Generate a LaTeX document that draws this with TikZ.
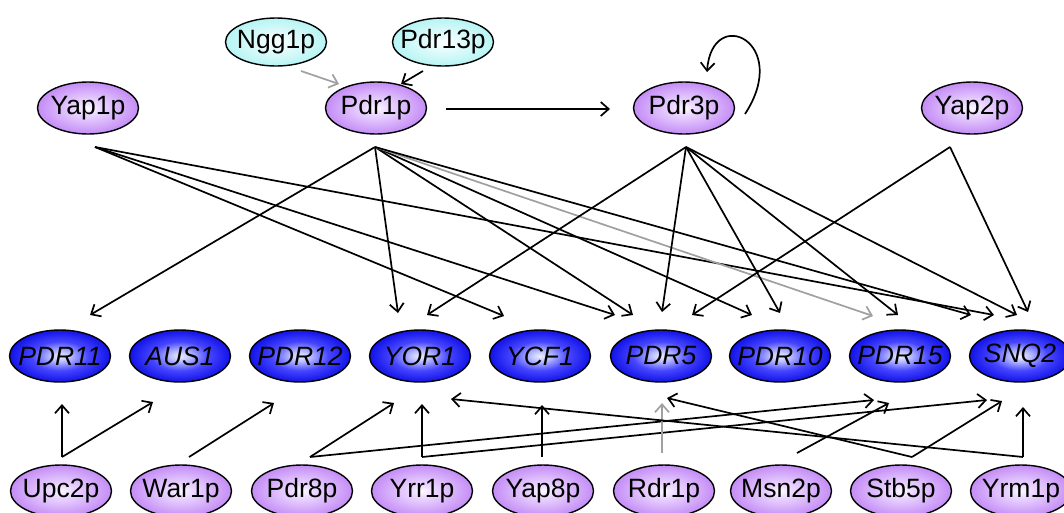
\documentclass[tikz,border=0pt]{standalone}
\usepackage{fontspec}
\setmainfont{Liberation Sans}
\usetikzlibrary{shapes.geometric,arrows.meta}
\definecolor{purpA}{RGB}{253,250,255}
\definecolor{purpB}{RGB}{236,216,255}
\definecolor{purpC}{RGB}{196,140,246}
\definecolor{blueA}{RGB}{238,240,255}
\definecolor{blueB}{RGB}{185,190,255}
\definecolor{blueC}{RGB}{70,70,255}
\definecolor{blueD}{RGB}{18,18,232}
\definecolor{cyanA}{RGB}{252,255,255}
\definecolor{cyanC}{RGB}{182,244,244}
\definecolor{edgegray}{RGB}{160,160,160}
\pgfdeclareradialshading{purpsh}{\pgfpoint{0bp}{0bp}}{color(0bp)=(purpA); color(6bp)=(purpB); color(25bp)=(purpC); color(50bp)=(purpC)}
\pgfdeclareradialshading{bluesh}{\pgfpoint{0bp}{0bp}}{color(0bp)=(blueA); color(5bp)=(blueB); color(14bp)=(blueC); color(25bp)=(blueD); color(50bp)=(blueD)}
\pgfdeclareradialshading{cyansh}{\pgfpoint{0bp}{0bp}}{color(0bp)=(cyanA); color(25bp)=(cyanC); color(50bp)=(cyanC)}
\newcommand{\nodetext}[1]{\makebox[0pt][c]{#1}}
\tikzset{
  basenode/.style={ellipse, draw=black, line width=1.4pt, minimum width=101pt, minimum height=52pt, inner sep=0pt, font=\fontsize{26.5}{30}\selectfont},
  tf/.style={basenode, shading=purpsh},
  gene/.style={basenode, shading=bluesh, font=\fontsize{26.5}{30}\selectfont\itshape},
  cof/.style={basenode, minimum height=48pt, shading=cyansh},
  link/.style={draw=black, line width=1.7pt, -{Straight Barb[length=8pt,width=14pt]}},
  glink/.style={link, draw=edgegray},
}
\begin{document}
\begin{tikzpicture}[x=1pt,y=-1pt]
\useasboundingbox (0,0) rectangle (1064,512);
\clip (0,0) rectangle (1064,512);
% top
\node[cof] (Ngg1p) at (276,42) {\nodetext{Ngg1p}};
\node[cof] (Pdr13p) at (443,42) {\nodetext{Pdr13p}};
\node[tf] (Yap1p) at (88,108) {\nodetext{Yap1p}};
\node[tf] (Pdr1p) at (376,108) {\nodetext{Pdr1p}};
\node[tf] (Pdr3p) at (684,108) {\nodetext{Pdr3p}};
\node[tf] (Yap2p) at (972,108) {\nodetext{Yap2p}};
% genes
\node[gene] (PDR11) at (60,356) {\nodetext{PDR11}};
\node[gene] (AUS1) at (180,356) {\nodetext{AUS1}};
\node[gene] (PDR12) at (300,356) {\nodetext{PDR12}};
\node[gene] (YOR1) at (420,356) {\nodetext{YOR1}};
\node[gene] (YCF1) at (540,356) {\nodetext{YCF1}};
\node[gene] (PDR5) at (661,356) {\nodetext{PDR5}};
\node[gene] (PDR10) at (780,356) {\nodetext{PDR10}};
\node[gene] (PDR15) at (900,356) {\nodetext{PDR15}};
\node[gene] (SNQ2) at (1020,356) {\nodetext{SNQ2}};
% bottom
\node[tf] (Upc2p) at (61,491) {\nodetext{Upc2p}};
\node[tf] (War1p) at (181,491) {\nodetext{War1p}};
\node[tf] (Pdr8p) at (302,491) {\nodetext{Pdr8p}};
\node[tf] (Yrr1p) at (422,491) {\nodetext{Yrr1p}};
\node[tf] (Yap8p) at (543,491) {\nodetext{Yap8p}};
\node[tf] (Rdr1p) at (664,491) {\nodetext{Rdr1p}};
\node[tf] (Msn2p) at (781,491) {\nodetext{Msn2p}};
\node[tf] (Stb5p) at (901,491) {\nodetext{Stb5p}};
\node[tf] (Yrm1p) at (1021,491) {\nodetext{Yrm1p}};

% ports
\coordinate (Ngg1p-o) at (301,71);
\coordinate (Pdr13p-o) at (423,71);
\coordinate (Pdr1p-in1) at (339,84);
\coordinate (Pdr1p-in2) at (401,84);
\coordinate (Pdr1p-r) at (446,109);
\coordinate (Pdr3p-l) at (610,109);
\coordinate (Pdr3p-lo) at (745,114);
\coordinate (Pdr3p-li) at (707,72);

\coordinate (Yap1p-o) at (95,147);
\coordinate (Pdr1p-o) at (375,147);
\coordinate (Pdr3p-o) at (686,147);
\coordinate (Yap2p-o) at (950,147);

\coordinate (PDR11-t1) at (90,315);
\coordinate (YOR1-t1) at (398,313);
\coordinate (YOR1-t2) at (427,315);
\coordinate (YCF1-t1) at (504,316);
\coordinate (PDR5-t1) at (615,315);
\coordinate (PDR5-t2) at (633,315);
\coordinate (PDR5-t3) at (662,312);
\coordinate (PDR5-t4) at (692,315);
\coordinate (PDR10-t1) at (752,315);
\coordinate (PDR10-t2) at (780,313);
\coordinate (PDR15-t1) at (873,316);
\coordinate (PDR15-t2) at (898,315);
\coordinate (SNQ2-t1) at (971,315);
\coordinate (SNQ2-t2) at (994,315);
\coordinate (SNQ2-t3) at (1017,315);
\coordinate (SNQ2-t4) at (1028,312);

\coordinate (Upc2p-o) at (62,457);
\coordinate (War1p-o) at (189,457);
\coordinate (Pdr8p-o) at (310,457);
\coordinate (Yrr1p-o) at (422,457);
\coordinate (Yap8p-o) at (542,457);
\coordinate (Rdr1p-o) at (662,453);
\coordinate (Msn2p-o) at (797,453);
\coordinate (Stb5p-o) at (912,457);
\coordinate (Yrm1p-o) at (1023,457);

\coordinate (PDR11-b1) at (62,404);
\coordinate (AUS1-b1) at (153,402);
\coordinate (PDR12-b1) at (274,403);
\coordinate (YOR1-b1) at (394,403);
\coordinate (YOR1-b2) at (422,404);
\coordinate (YOR1-b3) at (451,399);
\coordinate (YCF1-b1) at (542,405);
\coordinate (PDR5-b1) at (662,403);
\coordinate (PDR5-b2) at (667,398);
\coordinate (PDR15-b1) at (874,400);
\coordinate (PDR15-b2) at (889,403);
\coordinate (SNQ2-b1) at (987,400);
\coordinate (SNQ2-b2) at (1002,401);
\coordinate (SNQ2-b3) at (1023,407);

% top edges
\draw[glink] (Ngg1p-o) -- (Pdr1p-in1);
\draw[link] (Pdr13p-o) -- (Pdr1p-in2);
\draw[link] (Pdr1p-r) -- (Pdr3p-l);
\draw[link] (Pdr3p-lo) .. controls (792,42) and (712,4) .. (Pdr3p-li);

% regulators to genes
\draw[link] (Yap1p-o) -- (YCF1-t1);
\draw[link] (Yap1p-o) -- (PDR5-t1);
\draw[link] (Yap1p-o) -- (SNQ2-t2);
\draw[link] (Pdr1p-o) -- (PDR11-t1);
\draw[link] (Pdr1p-o) -- (YOR1-t1);
\draw[link] (Pdr1p-o) -- (PDR5-t2);
\draw[link] (Pdr1p-o) -- (PDR10-t1);
\draw[glink] (Pdr1p-o) -- (PDR15-t1);
\draw[link] (Pdr1p-o) -- (SNQ2-t1);
\draw[link] (Pdr3p-o) -- (YOR1-t2);
\draw[link] (Pdr3p-o) -- (PDR5-t3);
\draw[link] (Pdr3p-o) -- (PDR10-t2);
\draw[link] (Pdr3p-o) -- (PDR15-t2);
\draw[link] (Pdr3p-o) -- (SNQ2-t3);
\draw[link] (Yap2p-o) -- (PDR5-t4);
\draw[link] (Yap2p-o) -- (SNQ2-t4);

% bottom regulators
\draw[link] (Upc2p-o) -- (PDR11-b1);
\draw[link] (Upc2p-o) -- (AUS1-b1);
\draw[link] (War1p-o) -- (PDR12-b1);
\draw[link] (Pdr8p-o) -- (YOR1-b1);
\draw[link] (Pdr8p-o) -- (PDR15-b1);
\draw[link] (Yrr1p-o) -- (YOR1-b2);
\draw[link] (Yrr1p-o) -- (SNQ2-b1);
\draw[link] (Yap8p-o) -- (YCF1-b1);
\draw[glink] (Rdr1p-o) -- (PDR5-b1);
\draw[link] (Msn2p-o) -- (PDR15-b2);
\draw[link] (Stb5p-o) -- (PDR5-b2);
\draw[link] (Stb5p-o) -- (SNQ2-b2);
\draw[link] (Yrm1p-o) -- (SNQ2-b3);
\draw[link] (Yrm1p-o) -- (YOR1-b3);
\end{tikzpicture}
\end{document}
